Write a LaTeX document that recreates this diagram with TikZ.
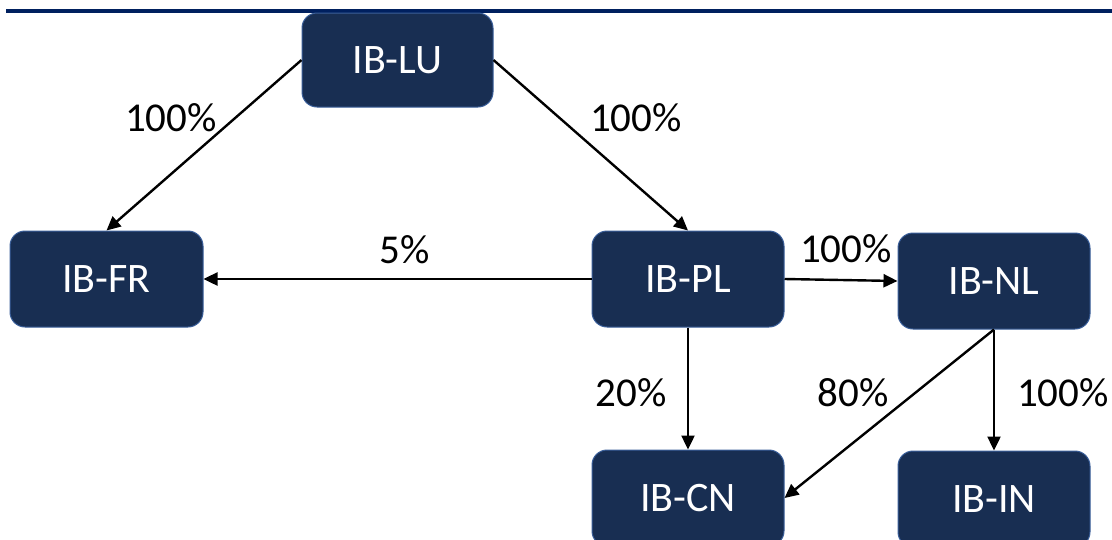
\documentclass[tikz,border=0pt]{standalone}
\usepackage{fontspec}
\setmainfont{Carlito}
\usetikzlibrary{arrows.meta}
\definecolor{boxfill}{HTML}{182E52}
\definecolor{boxline}{HTML}{3A5F9A}
\definecolor{rulecol}{HTML}{00205F}
\tikzset{
  entity/.style={draw=boxline, line width=1pt, fill=boxfill, rounded corners=15pt,
    minimum width=192pt, minimum height=96pt, inner sep=0pt, text=white,
    font=\fontsize{42}{42}\selectfont},
  link/.style={line width=2.4pt, -{Triangle[length=14pt,width=13pt]}},
  pct/.style={font=\fontsize{41}{41}\selectfont, inner sep=0pt}
}
\begin{document}
\begin{tikzpicture}[x=1pt,y=-1pt]
\clip (0,0) rectangle (1112,539);
\fill[white] (0,0) rectangle (1112,539);
\fill[rulecol] (6,9) rectangle (1112,12.5);
\node[entity, minimum width=191pt, minimum height=94pt] (lu) at (397.5,60) {IB-LU};
\node[entity, minimum width=193pt] (fr) at (106.5,279) {IB-FR};
\node[entity] (pl) at (688,279) {IB-PL};
\node[entity] (nl) at (994,281) {IB-NL};
\node[entity] (cn) at (688,498) {IB-CN};
\node[entity] (in) at (994,499) {IB-IN};
\draw[link] (lu.west) -- (fr.north);
\draw[link] (lu.east) -- (pl.north);
\draw[link] (pl.west) -- (fr.east);
\draw[link] (pl.east) -- (nl.west);
\draw[link] (pl.south) -- (cn.north);
\draw[link] (nl.south) -- (cn.east);
\draw[link] (nl.south) -- (in.north);
\node[pct] (l1) at (171,118) {100\%};
\node[pct] (l2) at (636,118) {100\%};
\node[pct] (l3) at (405,250) {5\%};
\node[pct] (l4) at (846,249) {100\%};
\node[pct] (l5) at (631,393) {20\%};
\node[pct] (l6) at (853,393) {80\%};
\node[pct] (l7) at (1063,393) {100\%};
\end{tikzpicture}
\end{document}
